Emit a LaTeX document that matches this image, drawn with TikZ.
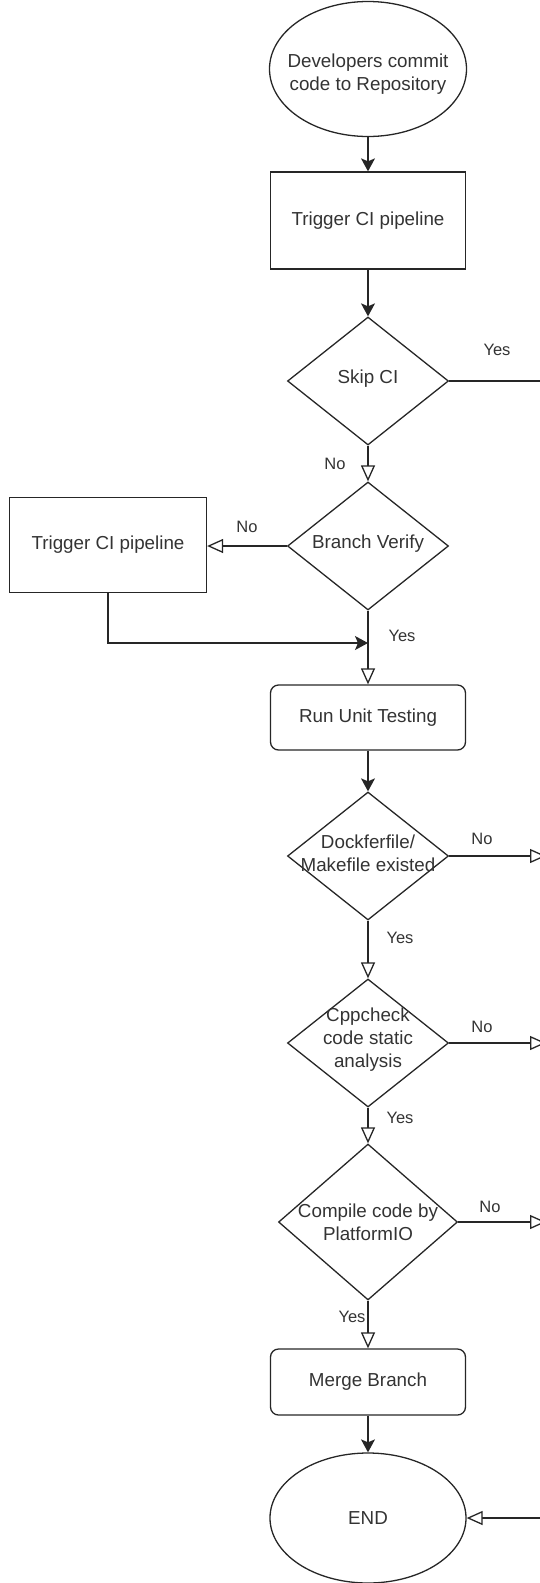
\documentclass[tikz,border=0pt]{standalone}
\usepackage{fontspec}
\setmainfont{Liberation Sans}
\usetikzlibrary{shapes.geometric,arrows.meta}

\begin{document}
\begin{tikzpicture}[x=1pt,y=-1pt,
  ink/.style={draw=black!85, line width=1.3pt},
  solidarrow/.style={ink, -{Stealth[length=13pt,width=14pt,inset=3pt]}},
  openarrow/.style={ink, -{Triangle[open,length=16pt,width=14pt,fill=white]}},
  txt/.style={font=\fontsize{18.8}{23}\selectfont, text=black!80, align=center},
  lbl/.style={font=\fontsize{16.5}{20}\selectfont, text=black!80, inner sep=0pt},
  box/.style={ink, txt, minimum width=195pt, inner sep=0pt},
  roundbox/.style={box, rounded corners=8pt},
  decision/.style={diamond, ink, inner sep=0pt, minimum width=161pt, minimum height=128pt},
  terminal/.style={ellipse, ink, inner sep=0pt}
]
\clip (0,0) rectangle (540,1583);

% process nodes, top to bottom
\node[terminal, minimum width=197pt, minimum height=135pt,
      label={[txt, yshift=-5pt]center:Developers commit\\code to Repository}] (start) at (368,69) {};
\node[box, minimum height=97pt] (trig1) at (368,220.5) {Trigger CI pipeline};
\node[decision, label={[txt, yshift=2pt]center:Skip CI}] (skip) at (368,381) {};
\node[decision, label={[txt, yshift=2pt]center:Branch Verify}] (branch) at (368,546) {};
\node[box, minimum width=197pt, minimum height=95pt] (trig2) at (108,545) {Trigger CI pipeline};
\node[roundbox, minimum height=65pt] (unit) at (368,717.5) {Run Unit Testing};
\node[decision, label={[txt, yshift=3pt]center:Dockferfile/\\Makefile existed}] (docker) at (368,856) {};
\node[decision, label={[txt, yshift=3pt]center:Cppcheck\\code static\\analysis}] (cpp) at (368,1043) {};
\node[decision, minimum width=179pt, minimum height=156pt,
      label={[txt]center:Compile code by\\PlatformIO}] (compile) at (368,1222) {};
\node[roundbox, minimum height=66pt] (merge) at (368,1382) {Merge Branch};
\node[terminal, minimum width=196pt, minimum height=130pt,
      label={[txt]center:END}] (end) at (368,1518) {};

% loose ends running off the right edge
\coordinate (skipout) at (548,381);
\coordinate (dockerout) at (546,856);
\coordinate (cppout) at (546,1043);
\coordinate (compileout) at (546,1222);
\coordinate (endin) at (548,1518);
\coordinate (rejoin) at (368,643);

% connectors
\draw[solidarrow] (start) -- (trig1);
\draw[solidarrow] (trig1) -- (skip);
\draw[ink] (skip.east) -- (skipout);
\draw[openarrow] (skip.south) -- (branch.north);
\draw[openarrow] (branch.west) -- (branch.west -| trig2.east);
\draw[solidarrow] (trig2.south) |- (rejoin);
\draw[openarrow] (branch.south) -- (unit.north);
\draw[solidarrow] (unit) -- (docker);
\draw[openarrow] (docker.east) -- (dockerout);
\draw[openarrow] (docker.south) -- (cpp.north);
\draw[openarrow] (cpp.east) -- (cppout);
\draw[openarrow] (cpp.south) -- (compile.north);
\draw[openarrow] (compile.east) -- (compileout);
\draw[openarrow] (compile.south) -- (merge.north);
\draw[solidarrow] (merge) -- (end);
\draw[openarrow] (endin) -- (end.east);

% branch labels
\node[lbl] (l1) at (497,350) {Yes};
\node[lbl] (l2) at (335,464) {No};
\node[lbl] (l3) at (247,527) {No};
\node[lbl] (l4) at (402,636) {Yes};
\node[lbl] (l5) at (482,839) {No};
\node[lbl] (l6) at (400,938) {Yes};
\node[lbl] (l7) at (482,1027) {No};
\node[lbl] (l8) at (400,1118) {Yes};
\node[lbl] (l9) at (490,1207) {No};
\node[lbl] (l10) at (352,1317) {Yes};
\end{tikzpicture}
\end{document}
